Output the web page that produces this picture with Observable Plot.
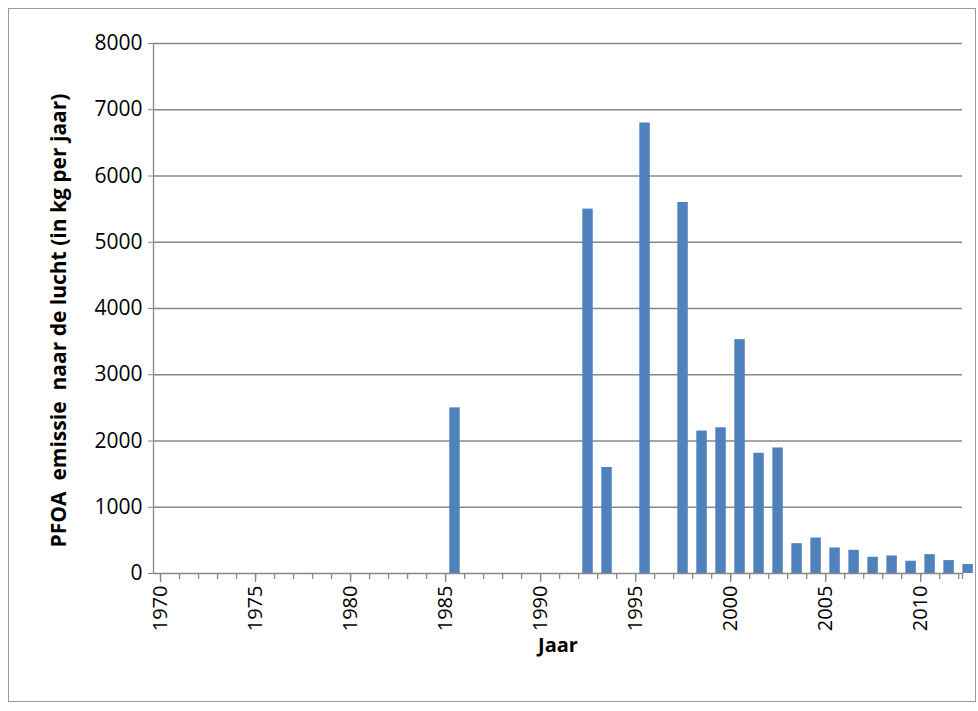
<!DOCTYPE html><html><head><meta charset="utf-8">
<script src="https://cdn.jsdelivr.net/npm/d3@7"></script>
<script src="https://cdn.jsdelivr.net/npm/@observablehq/plot@0.6"></script>
<style>body{margin:0;background:#fff}#c{position:relative;width:978px;height:711px}
#frame{position:absolute;left:8px;top:8px;width:968px;height:694px;border:1px solid #999;box-sizing:border-box;pointer-events:none}
</style>
</head><body><div id="c"><div id="frame"></div></div>
<script>
const years = [1985,1992,1993,1995,1997,1998,1999,2000,2001,2002,2003,2004,2005,2006,2007,2008,2009,2010,2011,2012];
const emission = [2500,5500,1600,6800,5600,2150,2200,3530,1815,1895,450,535,385,350,245,265,185,285,195,135];
const yTicks = [0,1000,2000,3000,4000,5000,6000,7000,8000];
const allYears = d3.range(1970,2013);
const labelYears = [1970,1975,1980,1985,1990,1995,2000,2005,2010];
const data = years.map((y,i)=>({year:y, v:emission[i]}));
const font = "Open Sans, sans-serif";
const chart = Plot.plot({
  width:978, height:711, marginLeft:153, marginRight:16, marginTop:43, marginBottom:138,
  style:{fontFamily:font, fontSize:"21px", color:"#000", background:"transparent"},
  x:{domain:[1969.63,2012.2]}, y:{domain:[0,8000]},
  marks:[
    Plot.ruleY(yTicks.slice(1),{stroke:"#888",strokeWidth:1.3}),
    Plot.rectY(data,{x1:d=>d.year+0.22,x2:d=>d.year+0.77,y:"v",fill:"#4f81bd"}),
    Plot.ruleY([0],{stroke:"#888",strokeWidth:1.3}),
    Plot.ruleX([1969.63],{stroke:"#888",strokeWidth:1.3}),
    Plot.axisY({ticks:yTicks,tickSize:5,tickPadding:6,stroke:"#888",tickFormat:d=>String(d),label:null,fontSize:21}),
    Plot.axisX({ticks:allYears.concat([2012.2]),tickSize:6,tickFormat:()=>"",label:null,stroke:"#888",strokeWidth:1.3}),
    Plot.axisX({ticks:labelYears,tickSize:9,tickRotate:-90,tickPadding:3,tickFormat:d=>String(d),label:null,stroke:"#888",strokeWidth:1.3,fontSize:20}),
    Plot.text(["PFOA  emissie  naar de lucht (in kg per jaar)"],{frameAnchor:"left",textAnchor:"middle",dx:-94,dy:12,rotate:-90,fontWeight:"bold",fontSize:21}),
    Plot.text(["Jaar"],{frameAnchor:"bottom",dy:78,dx:0,fontWeight:"bold",fontSize:20})
  ]
});
document.getElementById("c").prepend(chart);
</script></body></html>
